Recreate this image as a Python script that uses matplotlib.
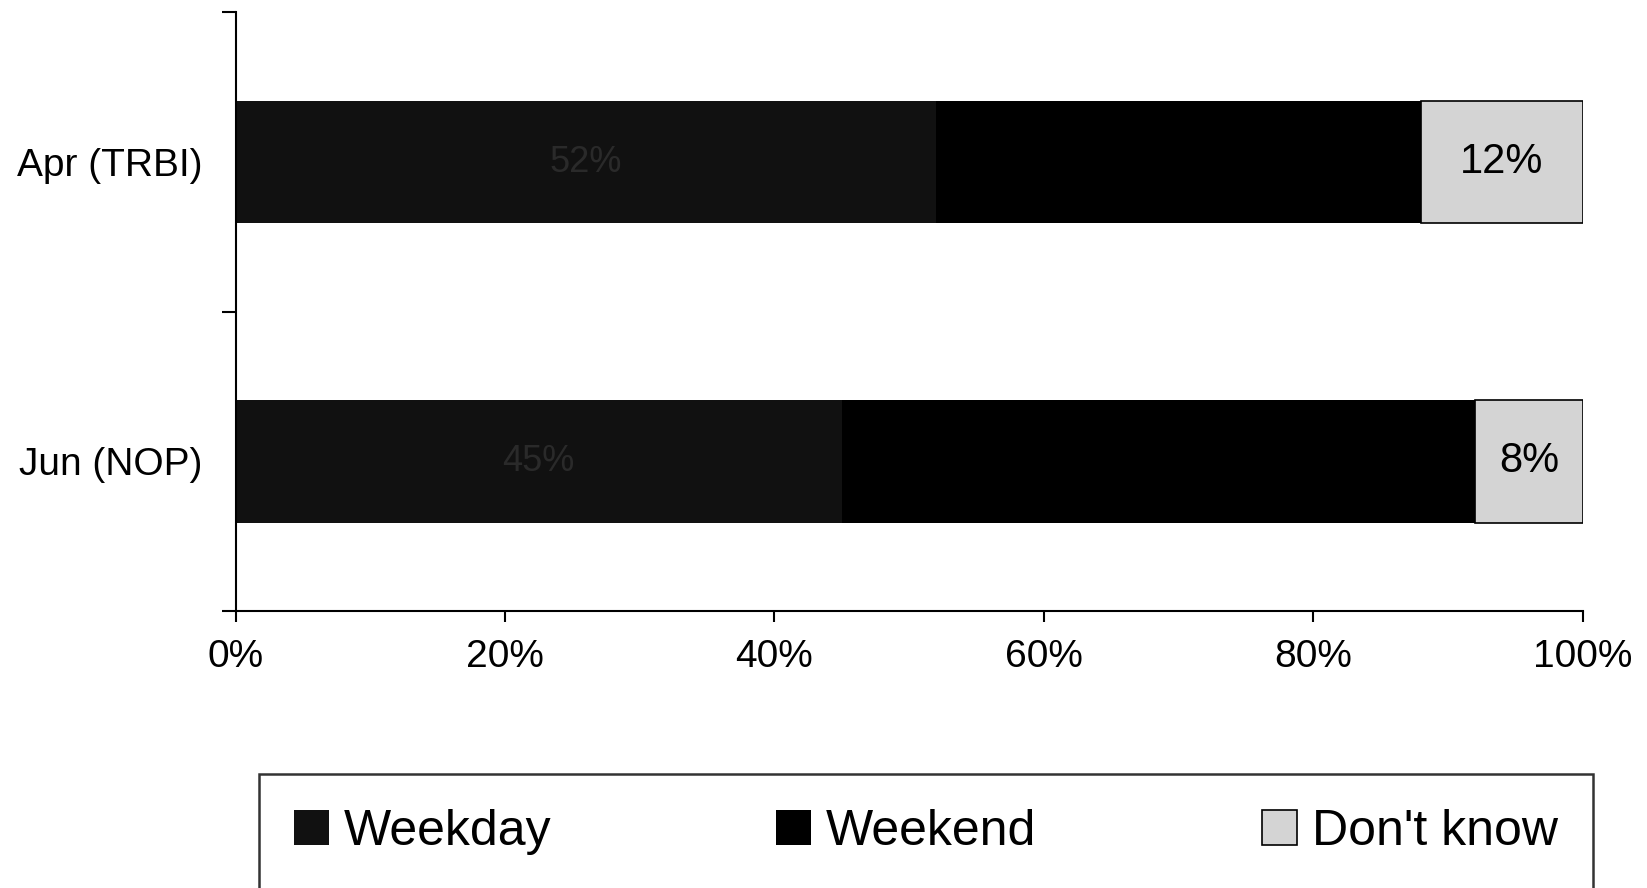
import matplotlib.pyplot as plt
import numpy as np

# survey responses, share of respondents (%)
categories = ["Apr (TRBI)", "Jun (NOP)"]
weekday = [52, 45]
weekend = [36, 47]
dont_know = [12, 8]
series_names = ["Weekday", "Weekend", "Don't know"]

plt.rcParams['font.family'] = ['Liberation Sans', 'DejaVu Sans']

fig = plt.figure(figsize=(16.47, 8.88), dpi=100)
ax = fig.add_axes([0.143, 0.312, 0.818, 0.674])

y = np.arange(len(categories))
h = 0.41
b1 = ax.barh(y, weekday, h, color="#111111", label=series_names[0])
b2 = ax.barh(y, weekend, h, left=weekday, color="black", label=series_names[1])
left3 = np.array(weekday) + np.array(weekend)
b3 = ax.barh(y, dont_know, h, left=left3, color="#d4d4d4",
             edgecolor="black", linewidth=1.2, label=series_names[2])

# labels: the weekday ones are barely visible on the dark bars, like the scan
ax.bar_label(b1, labels=[f"{v}%" for v in weekday], label_type="center",
             color="#2a2a2a", fontsize=26)
ax.bar_label(b3, labels=[f"{v}%" for v in dont_know], label_type="center",
             color="black", fontsize=30)

ax.set_xlim(0, 100)
ax.set_ylim(1.5, -0.5)
ax.set_xticks([0, 20, 40, 60, 80, 100])
ax.set_xticklabels([f"{t}%" for t in [0, 20, 40, 60, 80, 100]], fontsize=28)
ax.set_yticks(y)
ax.set_yticklabels(categories, fontsize=28)
ax.tick_params(axis="y", length=0, pad=24)
ax.set_yticks([-0.5, 0.5, 1.5], minor=True)
ax.tick_params(axis="y", which="minor", length=10, width=1.5)
ax.tick_params(axis="x", length=8, width=1.5, pad=12)
for s in ["top", "right"]:
    ax.spines[s].set_visible(False)
for s in ["left", "bottom"]:
    ax.spines[s].set_linewidth(1.5)

fig.legend(handles=[b1, b2, b3], labels=series_names, ncol=3,
           loc="lower left", bbox_to_anchor=(0.157, -0.002, 0.81, 0.17),
           mode="expand", borderaxespad=0, fontsize=36, frameon=True,
           fancybox=False, edgecolor="black", handlelength=0.7,
           handleheight=0.7, handletextpad=0.3, borderpad=0.7,
           columnspacing=1.0)
fig.legends[0].get_frame().set_linewidth(1.8)

fig.savefig("out.png", dpi=100)
